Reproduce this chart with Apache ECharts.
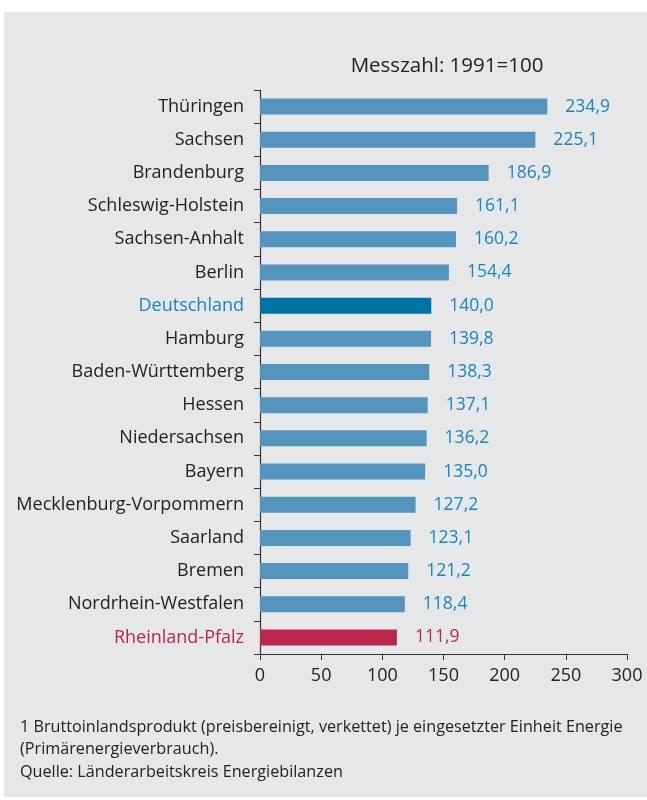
<!DOCTYPE html>
<html>
<head>
<meta charset="utf-8">
<script src="https://cdn.jsdelivr.net/npm/echarts@6/dist/echarts.min.js"></script>
<style>
  html, body { margin: 0; padding: 0; background: #fff; }
  #chart { width: 647px; height: 800px; }
</style>
</head>
<body>
<div id="chart"></div>
<script>
const states = [
  'Thüringen', 'Sachsen', 'Brandenburg', 'Schleswig-Holstein', 'Sachsen-Anhalt',
  'Berlin', 'Deutschland', 'Hamburg', 'Baden-Württemberg', 'Hessen',
  'Niedersachsen', 'Bayern', 'Mecklenburg-Vorpommern', 'Saarland', 'Bremen',
  'Nordrhein-Westfalen', 'Rheinland-Pfalz'
];
const values = [
  234.9, 225.1, 186.9, 161.1, 160.2,
  154.4, 140.0, 139.8, 138.3, 137.1,
  136.2, 135.0, 127.2, 123.1, 121.2,
  118.4, 111.9
];
const xTicks = [0, 50, 100, 150, 200, 250, 300];

const FONT = '"Open Sans", "Noto Sans", sans-serif';
const barBlue = '#5595bd';
const germanyBlue = '#0073a3';
const red = '#b8284a';
const labelBlue = '#1a86b8';

function barColor(name) {
  if (name === 'Deutschland') return germanyBlue;
  if (name === 'Rheinland-Pfalz') return red;
  return barBlue;
}
function textColor(name) {
  if (name === 'Rheinland-Pfalz') return red;
  return labelBlue;
}

const chart = echarts.init(document.getElementById('chart'));
chart.setOption({
  backgroundColor: '#ffffff',
  animation: false,
  graphic: [
    { type: 'rect', z: -10, shape: { x: 4, y: 12, width: 643, height: 785 }, style: { fill: '#e6e7e9' } },
    {
      type: 'text', left: 20, top: 716,
      style: {
        text: '1 Bruttoinlandsprodukt (preisbereinigt, verkettet) je eingesetzter Einheit Energie\n(Primärenergieverbrauch).\nQuelle: Länderarbeitskreis Energiebilanzen',
        font: '16.2px ' + FONT, fill: '#222', lineHeight: 22.5
      }
    }
  ],
  title: {
    text: 'Messzahl: 1991=100',
    left: 442, top: 51, textAlign: 'center',
    textStyle: { fontFamily: FONT, fontSize: 20.5, fontWeight: 'normal', color: '#222' }
  },
  grid: { left: 260, right: 20, top: 90, bottom: 146, containLabel: false },
  xAxis: {
    type: 'value', min: 0, max: 300, interval: 50,
    axisLine: { show: true, lineStyle: { color: '#333', width: 1.2 } },
    axisTick: { show: true, length: 6, lineStyle: { color: '#333' } },
    splitLine: { show: false },
    axisLabel: {
      fontFamily: FONT, fontSize: 18, color: '#222', margin: 13,
      formatter: v => xTicks.includes(v) ? String(v) : ''
    }
  },
  yAxis: {
    type: 'category', inverse: true, data: states,
    axisLine: { show: true, lineStyle: { color: '#333', width: 1.2 } },
    axisTick: { show: true, length: 6, lineStyle: { color: '#333' } },
    axisLabel: {
      fontFamily: FONT, fontSize: 18, margin: 16,
      color: (v) => v === 'Deutschland' ? labelBlue : (v === 'Rheinland-Pfalz' ? red : '#222')
    }
  },
  series: [{
    type: 'bar',
    barWidth: 16,
    data: values.map((v, i) => ({
      value: v,
      itemStyle: { color: barColor(states[i]) },
      label: { color: textColor(states[i]) }
    })),
    label: {
      show: true, position: 'right', distance: 18,
      fontFamily: FONT, fontSize: 17.5,
      formatter: p => p.value.toFixed(1).replace('.', ',')
    }
  }]
});
</script>
</body>
</html>
